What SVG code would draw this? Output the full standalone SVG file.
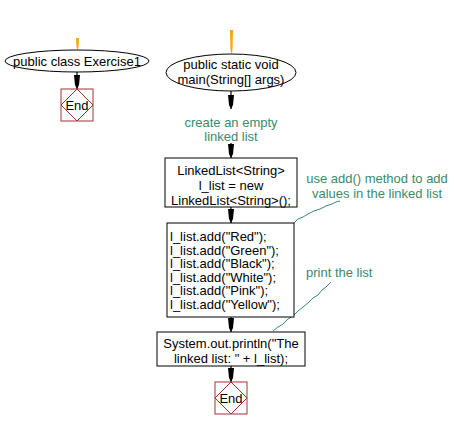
<svg xmlns="http://www.w3.org/2000/svg" width="455" height="430" viewBox="0 0 455 430">
<style>
.shape{fill:#fff;stroke:#000;stroke-width:1}
.end{fill:#fff;stroke:#a33333;stroke-width:1}
.dia{fill:none;stroke:#a33333;stroke-width:1}
.t{font-family:"Liberation Sans",Arial,sans-serif;font-size:13px;fill:#000}
.c{font-family:"Liberation Sans",Arial,sans-serif;font-size:13px;fill:#3b8a6b}
.mid{text-anchor:middle}
.conn{stroke:#000;stroke-width:1.2;fill:none;marker-end:url(#ah)}
.note{stroke:#3b8a6b;stroke-width:1;fill:none}
.start{fill:#ffa500}
</style>
<defs>
<marker id="ah" markerUnits="userSpaceOnUse" viewBox="0 -3 14 6" refX="14" refY="0" markerWidth="14" markerHeight="6" orient="auto">
<path d="M0,-3 L10,-2 L14,0 L10,2 L0,3 Z" fill="#000"/>
</marker>
</defs>
<g id="connectors">
<path class="start" d="M76,38 L79,38 L78.5,47 L77.5,50 L76.5,47 Z"/>
<path class="start" d="M230,30 L233,30 L232.5,50 L231.5,54 L230.5,50 Z"/>
<line class="conn" x1="77" y1="72" x2="77" y2="89"/>
<line class="conn" x1="231" y1="91" x2="231" y2="109"/>
<line class="conn" x1="231" y1="143" x2="231" y2="158"/>
<line class="conn" x1="231" y1="207" x2="231" y2="223"/>
<line class="conn" x1="231" y1="317" x2="231" y2="332"/>
<line class="conn" x1="231" y1="366" x2="231" y2="382"/>
<polyline class="note" points="294,223 298,219 303,217 308,214 314,211 320,209 326,206 332,204 336,202 340,201"/>
<polyline class="note" points="331,282 326,287 322,290 318,295 313,298 308,303 303,307 298,311 293,316 288,319 283,324 278,327 273,331"/>
</g>
<g id="start1">
<ellipse class="shape" cx="77" cy="61" rx="72" ry="11"/>
<text class="t mid" x="77" y="65.5">public class Exercise1</text>
</g>
<g id="end1">
<rect class="end" x="61" y="89" width="32" height="32"/>
<path class="dia" d="M77,89 L93,105 L77,121 L61,105 Z"/>
<text class="t mid" x="77" y="110">End</text>
</g>
<g id="start2">
<ellipse class="shape" cx="231" cy="72.5" rx="65" ry="18.5"/>
<text class="t mid" x="231" y="68.5">public static void</text>
<text class="t mid" x="231" y="83.5">main(String[] args)</text>
</g>
<g id="comment1">
<text class="c mid" x="231" y="126.5">create an empty</text>
<text class="c mid" x="231" y="140.5">linked list</text>
</g>
<g id="box1">
<rect class="shape" x="165" y="158" width="132" height="49"/>
<text class="t mid" x="231" y="175">LinkedList&lt;String&gt;</text>
<text class="t mid" x="231" y="190">l_list = new</text>
<text class="t mid" x="231" y="205">LinkedList&lt;String&gt;();</text>
</g>
<g id="box2">
<rect class="shape" x="167" y="223" width="127" height="94"/>
<text class="t" x="170" y="241">l_list.add("Red");</text>
<text class="t" x="170" y="254.5">l_list.add("Green");</text>
<text class="t" x="170" y="268">l_list.add("Black");</text>
<text class="t" x="170" y="281.5">l_list.add("White");</text>
<text class="t" x="170" y="295">l_list.add("Pink");</text>
<text class="t" x="170" y="308.5">l_list.add("Yellow");</text>
</g>
<g id="comment2">
<text class="c mid" x="377" y="182.5">use add() method to add</text>
<text class="c mid" x="377" y="197.5">values in the linked list</text>
</g>
<g id="comment3">
<text class="c" x="306" y="276.5">print the list</text>
</g>
<g id="box3">
<rect class="shape" x="157" y="332" width="148" height="34"/>
<text class="t mid" x="231" y="347.5">System.out.println("The</text>
<text class="t mid" x="231" y="363">linked list: " + l_list);</text>
</g>
<g id="end2">
<rect class="end" x="215" y="382" width="32" height="32"/>
<path class="dia" d="M231,382 L247,398 L231,414 L215,398 Z"/>
<text class="t mid" x="231" y="403">End</text>
</g>
</svg>
